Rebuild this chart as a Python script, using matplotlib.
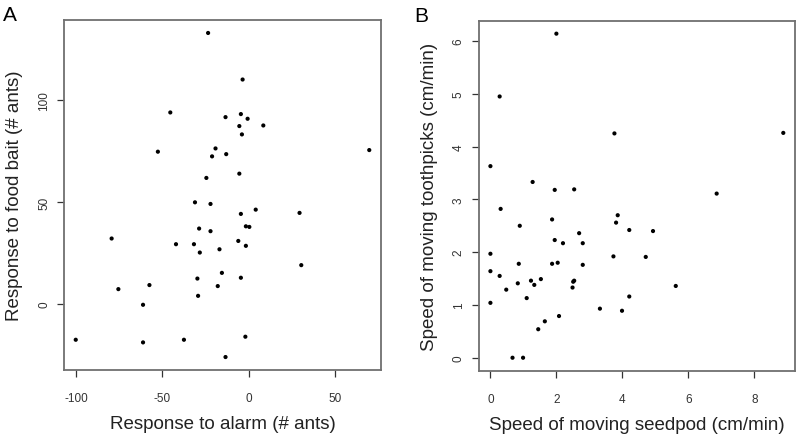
import matplotlib
matplotlib.use('Agg')
from matplotlib import pyplot as plt
import numpy as np

plt.rcParams['font.family'] = ['Liberation Sans', 'DejaVu Sans']
plt.rcParams['axes.unicode_minus'] = False

# panel A: response to alarm vs response to food bait (# ants)
alarm = [-23.5, -3.5, -45.4, -13.4, -4.5, -0.6, -5.4, 8.5, -3.9, -52.6,
         -19.2, -21.2, -13.0, 69.9, -5.4, -24.5, -31.1, -22.1, -4.5, 4.1,
         29.5, -28.7, -22.1, -1.6, 0.4, -79.4, -42.1, -31.7, -6.0, -16.9,
         -1.6, -28.3, 30.5, -15.5, -29.7, -4.5, -75.5, -57.5, -17.9, -29.3,
         -61.2, -100.2, -61.2, -37.5, -1.9, -13.4]
food = [133.2, 110.3, 94.1, 91.8, 93.3, 91.0, 87.4, 87.7, 83.3, 74.8,
        76.4, 72.5, 73.6, 75.6, 64.0, 61.9, 49.9, 49.1, 44.2, 46.3,
        44.7, 37.0, 35.7, 38.1, 37.8, 32.1, 29.3, 29.3, 30.9, 26.8,
        28.5, 25.2, 19.0, 15.2, 12.4, 12.8, 7.2, 9.2, 8.7, 3.9,
        -0.5, -17.7, -19.0, -17.7, -16.2, -26.2]

# panel B: seedpod speed vs toothpick speed (cm/min)
seedpod = [2.00, 0.28, 3.76, 8.88, 0.00, 1.28, 1.95, 2.54, 6.86, 0.31,
           1.87, 3.86, 3.81, 0.89, 4.21, 4.93, 2.69, 1.95, 2.20, 2.80,
           0.00, 3.73, 4.71, 0.86, 1.87, 2.04, 2.80, 0.00, 0.28, 1.53,
           1.23, 2.54, 2.51, 0.83, 1.33, 0.48, 5.62, 2.49, 1.10, 4.21,
           0.00, 3.32, 3.99, 2.08, 1.65, 1.45, 0.67, 0.99]
toothpick = [6.14, 4.95, 4.25, 4.26, 3.63, 3.33, 3.18, 3.19, 3.11, 2.82,
             2.62, 2.70, 2.56, 2.50, 2.42, 2.40, 2.36, 2.23, 2.17, 2.17,
             1.97, 1.92, 1.91, 1.78, 1.78, 1.80, 1.76, 1.64, 1.55, 1.49,
             1.46, 1.46, 1.44, 1.41, 1.38, 1.29, 1.36, 1.33, 1.13, 1.16,
             1.04, 0.93, 0.89, 0.79, 0.69, 0.54, 0.00, 0.00]

W, H = 797, 439
fig = plt.figure(figsize=(W/100, H/100), dpi=100)


def r_style(ax, x, y, xt, yt, xlab, ylab, letter, letter_x):
    ax.scatter(x, y, s=9, c='black', edgecolors='none')
    ax.margins(0.04)
    ax.set_xticks(xt)
    ax.set_yticks(yt)
    for s in ax.spines.values():
        s.set_color('#707070')
        s.set_linewidth(1.3)
    ax.tick_params(direction='out', length=5, width=0.9, color='#333333',
                   labelsize=8.5, labelcolor='#333333', pad=11)
    ax.tick_params(axis='y', pad=5)
    for t in ax.get_yticklabels():
        t.set_rotation(90)
        t.set_va('center')
    ax.set_xlabel(xlab, fontsize=13.5, color='#222222', labelpad=8)
    ax.set_ylabel(ylab, fontsize=13.5, color='#222222', labelpad=11)
    ax.text(letter_x, 1.0, letter, transform=ax.transAxes, fontsize=15,
            ha='left', va='baseline')


axA = fig.add_axes([64/W, 1-371/H, 317/W, 350/H])
r_style(axA, alarm, food, [-100, -50, 0, 50], [0, 50, 100],
        'Response to alarm (# ants)', 'Response to food bait (# ants)', 'A',
        -61/317)

axB = fig.add_axes([478.7/W, 1-371.7/H, 316.3/W, 350/H])
r_style(axB, seedpod, toothpick, [0, 2, 4, 6, 8], [0, 1, 2, 3, 4, 5, 6],
        'Speed of moving seedpod (cm/min)', 'Speed of moving toothpicks (cm/min)', 'B',
        -64/316.3)

plt.savefig('out.png', dpi=100)
